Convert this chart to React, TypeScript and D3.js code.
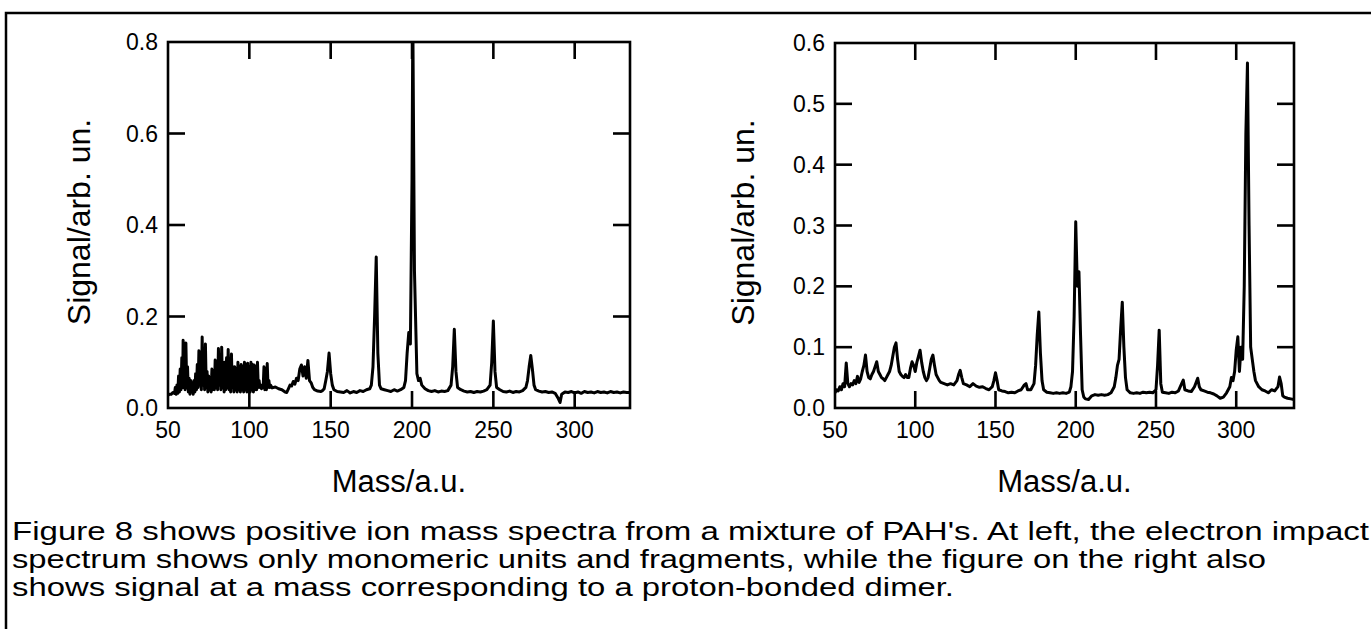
import React from "react";
import * as d3 from "d3";

// ---------- data ----------
const massTicks = [50, 100, 150, 200, 250, 300];
const leftSignalTicks = [0.0, 0.2, 0.4, 0.6, 0.8];
const rightSignalTicks = [0.0, 0.1, 0.2, 0.3, 0.4, 0.5, 0.6];

// Electron impact spectrum [mass, signal]
const leftSpectrum: [number, number][] = [
  [50, 0.028], [51, 0.03], [52, 0.03], [53, 0.034],
  [54, 0.032], [54.5, 0.045], [55, 0.03], [55.5, 0.05], [56, 0.032], [56.5, 0.07], [57, 0.035], [57.5, 0.085],
  [58, 0.04], [58.5, 0.11], [59, 0.045], [59.3, 0.148], [59.7, 0.05], [60, 0.12], [60.5, 0.04], [61, 0.142],
  [61.5, 0.045], [62, 0.09], [62.5, 0.035], [63, 0.065], [63.5, 0.03], [64, 0.06], [64.5, 0.035], [65, 0.055],
  [65.5, 0.03], [66, 0.06], [66.5, 0.035], [67, 0.075], [67.5, 0.04], [68, 0.095], [68.5, 0.045], [69, 0.125],
  [69.5, 0.05], [70, 0.11], [70.5, 0.04], [71, 0.155], [71.5, 0.05], [72, 0.12], [72.5, 0.04], [73, 0.14],
  [73.5, 0.045], [74, 0.08], [74.5, 0.035], [75, 0.07], [75.5, 0.04], [76, 0.065], [76.5, 0.035], [77, 0.085],
  [77.5, 0.04], [78, 0.075], [78.5, 0.04], [79, 0.105], [79.5, 0.045], [80, 0.1], [80.5, 0.04], [81, 0.13],
  [81.5, 0.05], [82, 0.11], [82.5, 0.04], [83, 0.133], [83.5, 0.045], [84, 0.1], [84.5, 0.035], [85, 0.1],
  [85.5, 0.04], [86, 0.11], [86.5, 0.045], [87, 0.128], [87.5, 0.04], [88, 0.1], [88.5, 0.035], [89, 0.118],
  [89.5, 0.045], [90, 0.09], [90.5, 0.035], [91, 0.09], [91.5, 0.04], [92, 0.085], [92.5, 0.035], [93, 0.1],
  [93.5, 0.04], [94, 0.09], [94.5, 0.035], [95, 0.095], [95.5, 0.04], [96, 0.09], [96.5, 0.035], [97, 0.1],
  [97.5, 0.04], [98, 0.095], [98.5, 0.035], [99, 0.098], [99.5, 0.04], [100, 0.09], [100.5, 0.035], [101, 0.1],
  [101.5, 0.04], [102, 0.095], [102.5, 0.035], [103, 0.094], [103.5, 0.04], [104, 0.09], [104.5, 0.04], [105, 0.1],
  [105.5, 0.045], [106, 0.06], [106.5, 0.045], [107, 0.05], [107.5, 0.042], [108, 0.05], [108.5, 0.045], [109, 0.09],
  [109.5, 0.04], [110, 0.085], [110.5, 0.04], [111, 0.097], [111.5, 0.045], [112, 0.06], [112.5, 0.045], [113, 0.05],
  [114, 0.044], [116, 0.046], [118, 0.042], [120, 0.04], [122, 0.035], [123, 0.034], [124, 0.042], [125, 0.05],
  [126, 0.048], [127, 0.058], [128, 0.052], [129, 0.065], [130, 0.06], [131, 0.085], [132, 0.094], [133, 0.07],
  [134, 0.09], [135, 0.065], [136, 0.104], [137, 0.06], [138, 0.055], [139, 0.045], [140, 0.04], [142, 0.037],
  [144, 0.036], [145, 0.038], [146, 0.042], [147, 0.06], [148, 0.08], [149, 0.12], [150, 0.075], [151, 0.05],
  [152, 0.04], [154, 0.036], [156, 0.035], [158, 0.034], [160, 0.038], [162, 0.033], [164, 0.036], [166, 0.034],
  [168, 0.038], [170, 0.036], [172, 0.04], [174, 0.042], [175, 0.05], [176, 0.09], [177, 0.2], [178, 0.33],
  [179, 0.12], [180, 0.05], [181, 0.042], [183, 0.04], [185, 0.038], [187, 0.036], [189, 0.04], [191, 0.037],
  [193, 0.04], [195, 0.045], [196, 0.06], [197, 0.12], [198, 0.165], [199, 0.14], [200, 0.5], [200.5, 0.85],
  [201.5, 0.3], [203, 0.075], [204, 0.06], [205, 0.065], [206, 0.05], [208, 0.042], [210, 0.038], [212, 0.036],
  [214, 0.038], [216, 0.035], [218, 0.037], [220, 0.036], [222, 0.038], [224, 0.05], [225, 0.09], [226, 0.172],
  [227, 0.08], [228, 0.045], [230, 0.04], [232, 0.037], [234, 0.035], [236, 0.036], [238, 0.034], [240, 0.036],
  [242, 0.035], [244, 0.037], [246, 0.04], [248, 0.05], [249, 0.1], [250, 0.19], [251, 0.08], [252, 0.045],
  [254, 0.04], [256, 0.036], [258, 0.035], [260, 0.037], [262, 0.034], [264, 0.036], [266, 0.035], [268, 0.038],
  [270, 0.045], [271, 0.06], [272, 0.09], [273, 0.115], [274, 0.085], [275, 0.05], [276, 0.04], [278, 0.037],
  [280, 0.035], [282, 0.036], [284, 0.034], [286, 0.035], [288, 0.032], [290, 0.02], [291, 0.012], [292, 0.03],
  [294, 0.035], [296, 0.034], [298, 0.036], [300, 0.033], [302, 0.035], [304, 0.032], [306, 0.036], [308, 0.034],
  [310, 0.035], [312, 0.033], [314, 0.036], [316, 0.034], [318, 0.035], [320, 0.033], [322, 0.036], [324, 0.034],
  [326, 0.035], [328, 0.033], [330, 0.035], [332, 0.034], [334, 0.034],
];

// Spectrum showing the proton-bonded dimer [mass, signal]
const rightSpectrum: [number, number][] = [
  [50, 0.025], [51, 0.03], [52, 0.028], [53, 0.035], [54, 0.03], [55, 0.04], [56, 0.035], [57, 0.074],
  [58, 0.04], [59, 0.035], [60, 0.04], [61, 0.038], [62, 0.045], [63, 0.04], [64, 0.052], [65, 0.042],
  [66, 0.048], [67, 0.06], [68, 0.07], [69, 0.087], [70, 0.06], [71, 0.05], [72, 0.048], [73, 0.055],
  [74, 0.06], [75, 0.068], [76, 0.076], [77, 0.06], [78, 0.055], [79, 0.05], [80, 0.048], [81, 0.045],
  [82, 0.05], [83, 0.055], [84, 0.06], [85, 0.07], [86, 0.085], [87, 0.1], [88, 0.107], [89, 0.08],
  [90, 0.06], [91, 0.055], [92, 0.052], [93, 0.05], [94, 0.055], [95, 0.05], [96, 0.05], [97, 0.065],
  [98, 0.076], [99, 0.07], [100, 0.06], [101, 0.075], [102, 0.085], [103, 0.095], [104, 0.075], [105, 0.06],
  [106, 0.05], [107, 0.045], [108, 0.05], [109, 0.065], [110, 0.08], [111, 0.087], [112, 0.07], [113, 0.055],
  [114, 0.05], [115, 0.045], [116, 0.042], [118, 0.04], [120, 0.038], [122, 0.04], [124, 0.038], [126, 0.045],
  [127, 0.055], [128, 0.062], [129, 0.05], [130, 0.04], [132, 0.038], [134, 0.035], [136, 0.04], [138, 0.036],
  [140, 0.034], [142, 0.035], [144, 0.032], [146, 0.03], [148, 0.035], [149, 0.045], [150, 0.058], [151, 0.045],
  [152, 0.03], [154, 0.028], [156, 0.027], [158, 0.025], [160, 0.026], [162, 0.025], [164, 0.028], [166, 0.03],
  [168, 0.038], [169, 0.04], [170, 0.03], [172, 0.03], [174, 0.04], [175, 0.07], [176, 0.12], [177, 0.158],
  [178, 0.09], [179, 0.045], [180, 0.03], [182, 0.026], [184, 0.025], [186, 0.024], [188, 0.025], [190, 0.024],
  [192, 0.025], [194, 0.024], [196, 0.026], [197, 0.035], [198, 0.06], [199, 0.15], [200, 0.306], [201, 0.2],
  [202, 0.224], [203, 0.12], [204, 0.03], [205, 0.018], [206, 0.015], [208, 0.014], [210, 0.02], [212, 0.022],
  [214, 0.021], [216, 0.022], [218, 0.021], [220, 0.022], [222, 0.025], [224, 0.035], [225, 0.05], [226, 0.07],
  [227, 0.08], [228, 0.13], [229, 0.174], [230, 0.1], [231, 0.05], [232, 0.03], [234, 0.025], [236, 0.024],
  [238, 0.025], [240, 0.024], [242, 0.026], [244, 0.025], [246, 0.026], [248, 0.025], [250, 0.03], [251, 0.07],
  [252, 0.128], [253, 0.04], [254, 0.026], [256, 0.025], [258, 0.024], [260, 0.026], [262, 0.025], [264, 0.028],
  [266, 0.04], [267, 0.046], [268, 0.03], [270, 0.028], [272, 0.027], [274, 0.035], [276, 0.049], [277, 0.035],
  [278, 0.03], [280, 0.028], [282, 0.026], [284, 0.025], [286, 0.023], [288, 0.02], [290, 0.016], [292, 0.018],
  [294, 0.025], [296, 0.035], [297, 0.05], [298, 0.045], [299, 0.06], [300, 0.095], [301, 0.117], [302, 0.06],
  [303, 0.1], [304, 0.08], [305, 0.2], [306, 0.45], [307, 0.567], [308, 0.3], [309, 0.1], [310, 0.08],
  [311, 0.06], [312, 0.045], [314, 0.035], [316, 0.03], [318, 0.028], [320, 0.025], [322, 0.03], [324, 0.028],
  [326, 0.035], [327, 0.051], [328, 0.04], [329, 0.02], [330, 0.018], [332, 0.016], [334, 0.015], [336, 0.014],
];

const yTitle = "Signal/arb. un.";
const xTitle = "Mass/a.u.";
const captionLines = [
  "Figure 8 shows positive ion mass spectra from a mixture of PAH's.  At left, the electron impact",
  "spectrum shows only monomeric units and fragments, while the figure on the right also",
  "shows signal at a mass corresponding to a proton-bonded dimer.",
];
const captionWidths = [1357, 1254, 942];

// ---------- layout ----------
const W = 1371;
const H = 629;
const FONT = "'Liberation Sans', Arial, Helvetica, sans-serif";
const STROKE = 2.6;
const TICK = 17;

type PanelProps = {
  id: string;
  left: number;
  right: number;
  top: number;
  bottom: number;
  xMax: number;
  yMax: number;
  yTicks: number[];
  data: [number, number][];
  titleX: number;
};

function Panel({ id, left, right, top, bottom, xMax, yMax, yTicks, data, titleX }: PanelProps) {
  const x = d3.scaleLinear().domain([50, xMax]).range([left, right]);
  const y = d3.scaleLinear().domain([0, yMax]).range([bottom, top]);
  const line = d3
    .line<[number, number]>()
    .x((d) => x(d[0]))
    .y((d) => y(d[1]));
  const innerX = massTicks.filter((t) => t > 50);
  const innerY = yTicks.filter((t) => t > 0 && t < yMax);
  const cy = (top + bottom) / 2 - 3;
  return (
    <g>
      <defs>
        <clipPath id={id}>
          <rect x={left} y={top} width={right - left} height={bottom - top} />
        </clipPath>
      </defs>
      <path
        d={line(data) || ""}
        fill="none"
        stroke="#000"
        strokeWidth={3}
        strokeLinejoin="round"
        clipPath={`url(#${id})`}
      />
      <rect x={left} y={top} width={right - left} height={bottom - top} fill="none" stroke="#000" strokeWidth={STROKE} />
      {innerX.map((t) => (
        <g key={"xt" + t}>
          <line x1={x(t)} x2={x(t)} y1={top} y2={top + TICK} stroke="#000" strokeWidth={STROKE} />
          <line x1={x(t)} x2={x(t)} y1={bottom} y2={bottom - TICK} stroke="#000" strokeWidth={STROKE} />
        </g>
      ))}
      {innerY.map((t) => (
        <g key={"yt" + t}>
          <line x1={left} x2={left + TICK} y1={y(t)} y2={y(t)} stroke="#000" strokeWidth={STROKE} />
          <line x1={right} x2={right - TICK} y1={y(t)} y2={y(t)} stroke="#000" strokeWidth={STROKE} />
        </g>
      ))}
      {yTicks.map((t) => (
        <text key={"yl" + t} x={left - 10} y={y(t) + 8} textAnchor="end" fontSize={23} fontFamily={FONT}>
          {t.toFixed(1)}
        </text>
      ))}
      {massTicks.map((t) => (
        <text key={"xl" + t} x={x(t)} y={438} textAnchor="middle" fontSize={23} fontFamily={FONT}>
          {t}
        </text>
      ))}
      <text
        transform={`translate(${titleX},${cy}) rotate(-90)`}
        textAnchor="middle"
        fontSize={32}
        fontFamily={FONT}
      >
        {yTitle}
      </text>
      <text x={(left + right) / 2} y={492} textAnchor="middle" fontSize={31} fontFamily={FONT}>
        {xTitle}
      </text>
    </g>
  );
}

export default function App() {
  return (
    <div style={{ position: "absolute", left: 0, top: 0, width: W, height: H, background: "#fff" }}>
      <svg width={W} height={H} viewBox={`0 0 ${W} ${H}`} style={{ display: "block" }}>
        <rect x={0} y={0} width={W} height={H} fill="#fff" />
        <path d={`M6,${H} V13 H${W}`} fill="none" stroke="#000" strokeWidth={2.5} />
        <Panel
          id="clipL"
          left={168}
          right={630}
          top={42}
          bottom={408}
          xMax={334}
          yMax={0.8}
          yTicks={leftSignalTicks}
          data={leftSpectrum}
          titleX={90}
        />
        <Panel
          id="clipR"
          left={835}
          right={1294}
          top={43}
          bottom={408}
          xMax={336}
          yMax={0.6}
          yTicks={rightSignalTicks}
          data={rightSpectrum}
          titleX={754}
        />
        {captionLines.map((s, i) => (
          <text
            key={i}
            x={12}
            y={540 + i * 28}
            fontSize={25}
            fontFamily={FONT}
            textLength={captionWidths[i]}
            lengthAdjust="spacingAndGlyphs"
          >
            {s}
          </text>
        ))}
      </svg>
    </div>
  );
}
